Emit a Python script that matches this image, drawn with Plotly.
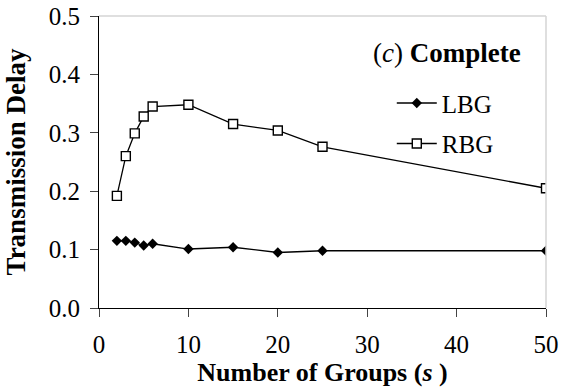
import plotly.graph_objects as go

# Number of groups (s)
groups = [2, 3, 4, 5, 6, 10, 15, 20, 25, 50]

# Transmission delay per scheme
lbg_delay = [0.115, 0.115, 0.112, 0.107, 0.110, 0.101, 0.104, 0.095, 0.098, 0.098]
rbg_delay = [0.192, 0.260, 0.299, 0.328, 0.345, 0.348, 0.315, 0.304, 0.276, 0.205]

x_ticks = [0, 10, 20, 30, 40, 50]
y_ticks = [0.0, 0.1, 0.2, 0.3, 0.4, 0.5]

SERIF = "Liberation Serif, Times New Roman, serif"

fig = go.Figure()
fig.add_trace(go.Scatter(
    x=groups, y=lbg_delay, name="LBG", mode="lines+markers",
    legendgroup="lbg",
    line=dict(color="black", width=1.3),
    marker=dict(symbol="diamond", size=8, color="black"),
))
fig.add_trace(go.Scatter(
    x=groups, y=rbg_delay, name="RBG", mode="lines+markers",
    legendgroup="rbg",
    line=dict(color="black", width=1.3),
    marker=dict(symbol="square", size=9, color="white",
                line=dict(color="black", width=1.4)),
))

fig.update_layout(
    width=568, height=389,
    margin=dict(l=99, r=22, t=16, b=81),
    paper_bgcolor="white", plot_bgcolor="white",
    font=dict(family=SERIF, size=25, color="black"),
    showlegend=True,
    legend=dict(
        x=0.655, y=0.78, xanchor="left", yanchor="top",
        bgcolor="rgba(0,0,0,0)", font=dict(size=25),
        itemwidth=40, tracegroupgap=5,
    ),
    xaxis=dict(
        range=[0, 50], tickvals=x_ticks, showgrid=False, zeroline=False,
        showline=True, linecolor="black", linewidth=1,
        ticks="outside", ticklen=8, tickcolor="#444", tickwidth=1,
        ticklabelstandoff=6, automargin=False,
        title=dict(text="<b>Number of Groups (</b><b><i>s</i></b><b> )</b>",
                   font=dict(size=26), standoff=0),
    ),
    yaxis=dict(
        range=[0, 0.5], tickvals=y_ticks, tickformat=".1f",
        showgrid=False, zeroline=False,
        showline=True, linecolor="black", linewidth=1,
        ticks="outside", ticklen=8, tickcolor="#444", tickwidth=1,
        ticklabelstandoff=5, automargin=False,
        title=dict(text="<b>Transmission Delay</b>", font=dict(size=27),
                   standoff=15),
    ),
    shapes=[
        dict(type="line", xref="paper", yref="paper", x0=0, x1=1, y0=1, y1=1,
             line=dict(color="#d4d4d4", width=1.5)),
        dict(type="line", xref="paper", yref="paper", x0=1, x1=1, y0=0, y1=1,
             line=dict(color="#d4d4d4", width=1.5)),
    ],
    annotations=[
        dict(text="(<i>c</i>) <b>Complete</b>", xref="paper", yref="paper",
             x=0.779, y=0.873, xanchor="center", yanchor="middle",
             showarrow=False, font=dict(size=27)),
    ],
)

fig.write_html("out.html")
